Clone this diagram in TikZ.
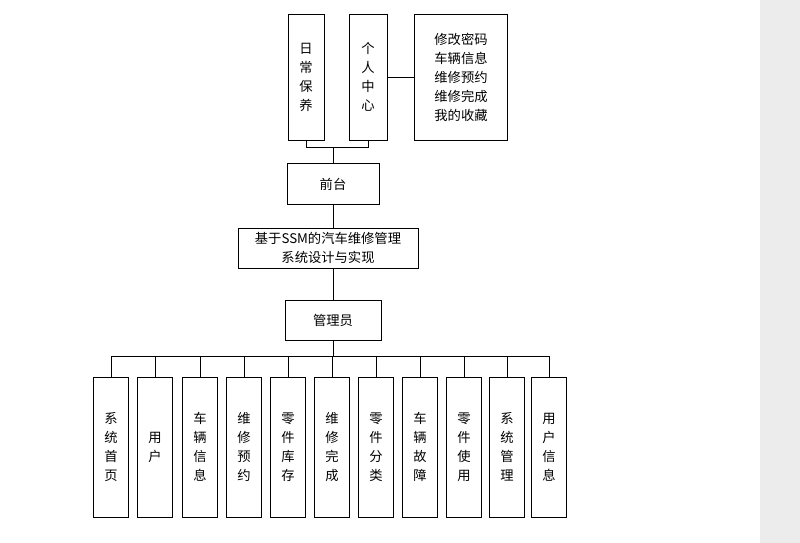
\documentclass[tikz,border=0pt]{standalone}
\usepackage{fontspec}
\setmainfont{Liberation Serif}
\newfontfamily\cjk{Noto Sans CJK SC}[Scale=0.95]
\begin{document}
\begin{tikzpicture}[x=1pt,y=-1pt,
  bx/.style={draw,thick,line width=0.9pt,inner sep=0pt,font=\cjk\fontsize{14}{19}\selectfont,align=center},
  ln/.style={line width=0.9pt}]
\useasboundingbox (0,0) rectangle (800,543);
\fill[white] (0,0) rectangle (760,543);
\fill[gray!15] (760,0) rectangle (800,543);
\node[bx,minimum width=36,minimum height=126] (rc) at (306,77) {日\\常\\保\\养};
\node[bx,minimum width=38,minimum height=126] (gr) at (368,77) {个\\人\\中\\心};
\node[bx,minimum width=93,minimum height=126] (xg) at (461,77) {修改密码\\车辆信息\\维修预约\\维修完成\\我的收藏};
\draw[ln] (gr.east) -- (xg.west);
\node[bx,minimum width=92,minimum height=41] (qt) at (333,184) {前台};
\node[bx,minimum width=180,minimum height=40] (jy) at (328,248) {基于SSM的汽车维修管理\\系统设计与实现};
\node[bx,minimum width=96,minimum height=40] (gl) at (333,320) {管理员};
\coordinate (b) at (0,147);
\draw[ln] (rc.south) -- (rc.south |- b) -- (gr.south |- b) -- (gr.south);
\draw[ln] (qt.north) -- (qt.north |- b);
\draw[ln] (qt.south) -- (qt.south |- jy.north);
\draw[ln] (qt.south |- jy.south) -- (gl.north);
\coordinate (h) at (0,356);
\foreach \n/\x/\t in {a/111/系\\统\\首\\页, bb/155/用\\户, c/200/车\\辆\\信\\息, d/244/维\\修\\预\\约, e/288/零\\件\\库\\存, f/332/维\\修\\完\\成, g/376/零\\件\\分\\类, hh/420/车\\辆\\故\\障, i/464/零\\件\\使\\用, j/507/系\\统\\管\\理, k/549/用\\户\\信\\息}{
  \node[bx,minimum width=35,minimum height=140] (\n) at (\x,447) {\t};
  \draw[ln] (\n.north) -- (\n.north |- h);
}
\draw[ln] (a.north |- h) -- (k.north |- h);
\draw[ln] (gl.south) -- (gl.south |- h);
\end{tikzpicture}
\end{document}
